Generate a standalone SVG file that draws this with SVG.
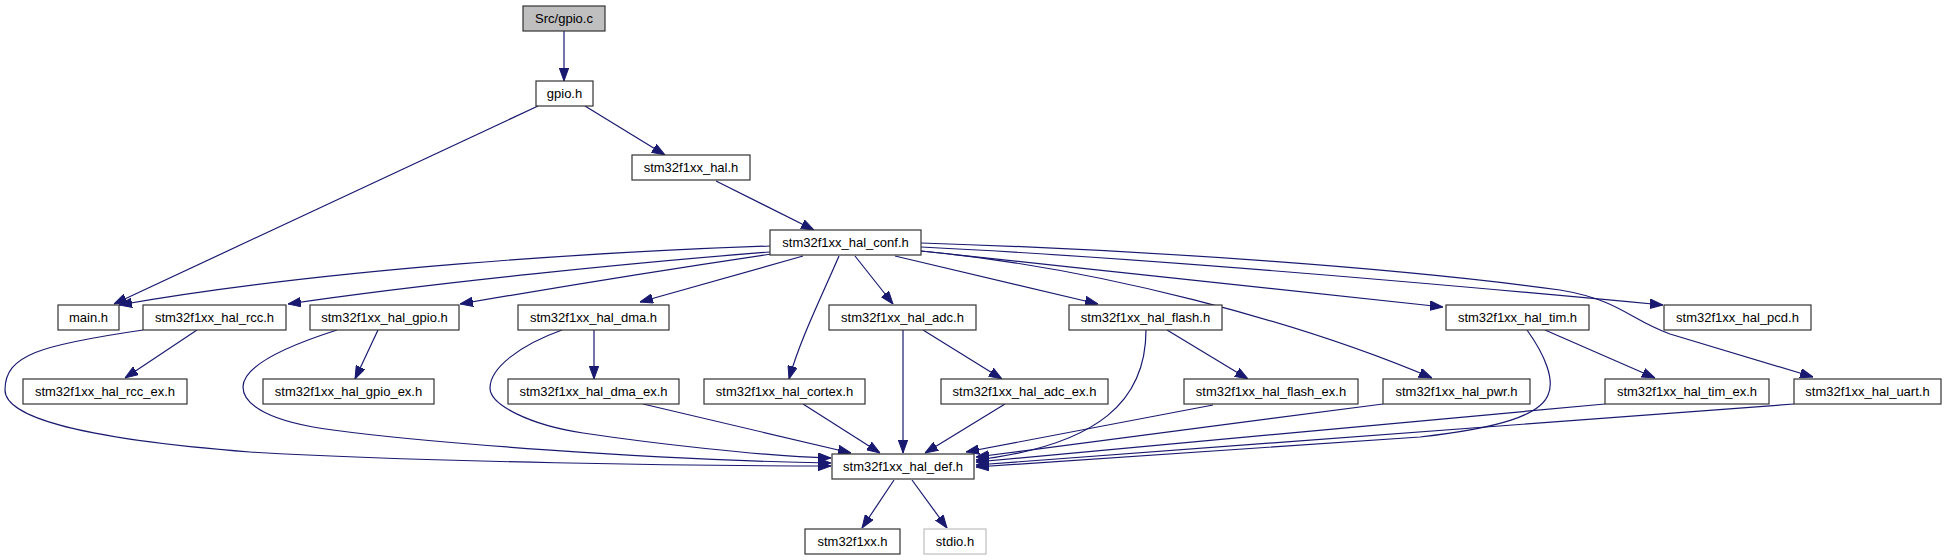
<svg xmlns="http://www.w3.org/2000/svg" width="1946" height="560" viewBox="0 0 1946 560">
<style>
.n rect{fill:#fff;stroke:#333;stroke-width:1.2}
.n text{font-family:"Liberation Sans",Arial,sans-serif;font-size:13px;fill:#000;text-anchor:middle}
.root rect{fill:#bfbfbf}
.ext rect{stroke:#bfbfbf}
.e path{fill:none;stroke:#191970;stroke-width:1.2;marker-end:url(#ah)}
</style>
<defs>
<marker id="ah" markerUnits="userSpaceOnUse" markerWidth="13" markerHeight="10" viewBox="0 0 13 10" refX="13" refY="5" orient="auto">
<path d="M0,0.3 L13,5 L0,9.7 z" fill="#191970" stroke="#191970" stroke-width="1"/>
</marker>
</defs>
<rect width="1946" height="560" fill="#fff"/>
<g id="edges" class="e">
<path d="M564,31 L564,81"/>
<path d="M538,106 L114,304"/>
<path d="M585,106 L665,155"/>
<path d="M716,181 L814,230"/>
<path d="M770,246 C600,252 330,268 119,305"/>
<path d="M770,252 C640,262 430,283 288,304"/>
<path d="M771,254 C690,266 570,285 460,304"/>
<path d="M803,256 L640,302"/>
<path d="M839,256 C820,300 800,340 789,379"/>
<path d="M855,256 L893,304"/>
<path d="M895,256 L1098,304"/>
<path d="M921,251 C1100,268 1300,322 1432,378"/>
<path d="M921,251 C1100,270 1300,292 1443,307"/>
<path d="M921,247 C1150,258 1450,285 1663,305"/>
<path d="M921,243 C1150,250 1400,268 1560,290 C1620,300 1630,320 1670,334 L1813,377"/>
<path d="M197,330 L125,378"/>
<path d="M143,330 C40,345 5,355 5,390 C5,415 70,438 250,452 C420,462 700,466 831,466"/>
<path d="M378,330 L355,379"/>
<path d="M337,330 C290,345 243,365 243,387 C243,405 270,422 333,430 C420,442 650,460 831,463"/>
<path d="M594,330 L594,379"/>
<path d="M562,330 C520,345 490,368 490,388 C490,405 530,425 583,433 C650,443 760,456 831,458"/>
<path d="M643,404 L851,453"/>
<path d="M803,404 L880,453"/>
<path d="M903,330 L903,453"/>
<path d="M923,330 L1002,379"/>
<path d="M1005,404 L925,453"/>
<path d="M1146,330 C1146,400 1100,445 976,460"/>
<path d="M1167,330 L1248,379"/>
<path d="M1213,405 L966,452"/>
<path d="M1383,404 L976,457"/>
<path d="M1545,330 L1655,378"/>
<path d="M1527,330 C1545,355 1555,380 1548,395 C1540,415 1500,428 1420,437 L976,467"/>
<path d="M1605,404 L976,462"/>
<path d="M1794,404 L976,465"/>
<path d="M894,480 L862,528"/>
<path d="M912,480 L947,528"/>
</g>
<g id="n_gpio_c" class="n root"><rect x="523" y="6" width="82" height="25"/><text x="564" y="23">Src/gpio.c</text></g>
<g id="n_gpio_h" class="n"><rect x="536" y="81" width="57" height="25"/><text x="564.5" y="98">gpio.h</text></g>
<g id="n_hal" class="n"><rect x="632" y="155" width="118" height="25"/><text x="691" y="172">stm32f1xx_hal.h</text></g>
<g id="n_conf" class="n"><rect x="770" y="230" width="151" height="25"/><text x="845.5" y="247">stm32f1xx_hal_conf.h</text></g>
<g id="n_main" class="n"><rect x="58" y="305" width="61" height="25"/><text x="88.5" y="322">main.h</text></g>
<g id="n_rcc" class="n"><rect x="143" y="305" width="143" height="25"/><text x="214.5" y="322">stm32f1xx_hal_rcc.h</text></g>
<g id="n_hgpio" class="n"><rect x="310" y="305" width="149" height="25"/><text x="384.5" y="322">stm32f1xx_hal_gpio.h</text></g>
<g id="n_dma" class="n"><rect x="518" y="305" width="151" height="25"/><text x="593.5" y="322">stm32f1xx_hal_dma.h</text></g>
<g id="n_adc" class="n"><rect x="829" y="305" width="147" height="25"/><text x="902.5" y="322">stm32f1xx_hal_adc.h</text></g>
<g id="n_flash" class="n"><rect x="1069" y="305" width="153" height="25"/><text x="1145.5" y="322">stm32f1xx_hal_flash.h</text></g>
<g id="n_tim" class="n"><rect x="1446" y="305" width="143" height="25"/><text x="1517.5" y="322">stm32f1xx_hal_tim.h</text></g>
<g id="n_pcd" class="n"><rect x="1664" y="305" width="147" height="25"/><text x="1737.5" y="322">stm32f1xx_hal_pcd.h</text></g>
<g id="n_rcc_ex" class="n"><rect x="23" y="379" width="164" height="25"/><text x="105" y="396">stm32f1xx_hal_rcc_ex.h</text></g>
<g id="n_gpio_ex" class="n"><rect x="263" y="379" width="171" height="25"/><text x="348.5" y="396">stm32f1xx_hal_gpio_ex.h</text></g>
<g id="n_dma_ex" class="n"><rect x="508" y="379" width="171" height="25"/><text x="593.5" y="396">stm32f1xx_hal_dma_ex.h</text></g>
<g id="n_cortex" class="n"><rect x="704" y="379" width="161" height="25"/><text x="784.5" y="396">stm32f1xx_hal_cortex.h</text></g>
<g id="n_adc_ex" class="n"><rect x="941" y="379" width="167" height="25"/><text x="1024.5" y="396">stm32f1xx_hal_adc_ex.h</text></g>
<g id="n_flash_ex" class="n"><rect x="1184" y="379" width="174" height="25"/><text x="1271" y="396">stm32f1xx_hal_flash_ex.h</text></g>
<g id="n_pwr" class="n"><rect x="1383" y="379" width="147" height="25"/><text x="1456.5" y="396">stm32f1xx_hal_pwr.h</text></g>
<g id="n_tim_ex" class="n"><rect x="1605" y="379" width="164" height="25"/><text x="1687" y="396">stm32f1xx_hal_tim_ex.h</text></g>
<g id="n_uart" class="n"><rect x="1794" y="379" width="147" height="25"/><text x="1867.5" y="396">stm32f1xx_hal_uart.h</text></g>
<g id="n_def" class="n"><rect x="832" y="454" width="142" height="25"/><text x="903" y="471">stm32f1xx_hal_def.h</text></g>
<g id="n_f1xx" class="n"><rect x="805" y="529" width="95" height="25"/><text x="852.5" y="546">stm32f1xx.h</text></g>
<g id="n_stdio" class="n ext"><rect x="924" y="529" width="62" height="25"/><text x="955" y="546">stdio.h</text></g>
</svg>
